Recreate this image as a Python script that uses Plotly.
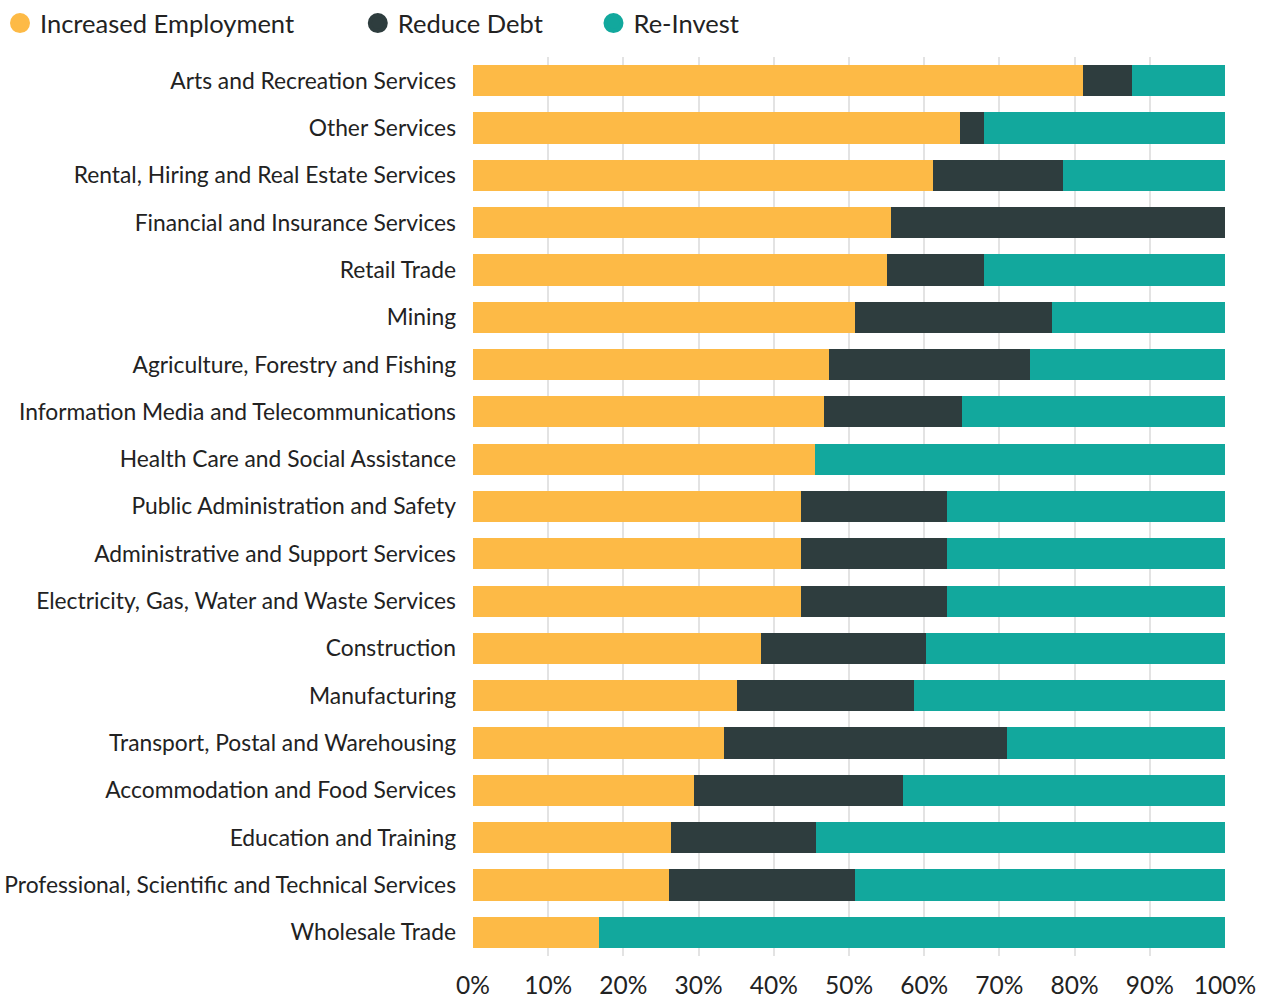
import plotly.graph_objects as go

categories = [
    "Arts and Recreation Services",
    "Other Services",
    "Rental, Hiring and Real Estate Services",
    "Financial and Insurance Services",
    "Retail Trade",
    "Mining",
    "Agriculture, Forestry and Fishing",
    "Information Media and Telecommunications",
    "Health Care and Social Assistance",
    "Public Administration and Safety",
    "Administrative and Support Services",
    "Electricity, Gas, Water and Waste Services",
    "Construction",
    "Manufacturing",
    "Transport, Postal and Warehousing",
    "Accommodation and Food Services",
    "Education and Training",
    "Professional, Scientific and Technical Services",
    "Wholesale Trade",
]
increased_employment = [81.1, 64.8, 61.2, 55.6, 55.1, 50.8, 47.3, 46.7, 45.5, 43.6, 43.6, 43.6, 38.3, 35.1, 33.4, 29.4, 26.3, 26.1, 16.8]
reduce_debt = [6.5, 3.2, 17.3, 44.4, 12.9, 26.2, 26.8, 18.3, 0.0, 19.4, 19.4, 19.4, 21.9, 23.5, 37.6, 27.8, 19.3, 24.7, 0.0]
re_invest = [round(100 - a - b, 1) for a, b in zip(increased_employment, reduce_debt)]

series_names = ["Increased Employment", "Reduce Debt", "Re-Invest"]
series_values = [increased_employment, reduce_debt, re_invest]
series_colors = ["#FDBA46", "#2E3D3E", "#12A89D"]
legend_pad = ["\u00a0" * 9, "\u00a0" * 7, ""]

FONT = "Lato"
fig = go.Figure()
for name, vals, color in zip(series_names, series_values, series_colors):
    fig.add_trace(go.Bar(
        y=categories, x=vals, name=name, orientation="h",
        marker=dict(color=color, line=dict(width=0)),
        showlegend=False, hoverinfo="x+y+name",
    ))
for name, color, pad in zip(series_names, series_colors, legend_pad):
    fig.add_trace(go.Scatter(
        x=[None], y=[None], mode="markers", name=name + pad,
        marker=dict(color=color, size=16, symbol="circle",
                    line=dict(color=color, width=4)),
    ))

fig.update_layout(
    width=1267, height=999,
    barmode="stack", bargap=0.34,
    plot_bgcolor="white", paper_bgcolor="white",
    margin=dict(l=473, r=42, t=57, b=43, autoexpand=False),
    font=dict(family=FONT, size=23, color="#222"),
    legend=dict(
        orientation="h", x=0.0, y=1.0, xref="container", yref="container",
        xanchor="left", yanchor="top", traceorder="normal",
        bgcolor="rgba(0,0,0,0)",
        font=dict(size=25.5, color="#222"),
        itemwidth=30, tracegroupgap=0, itemsizing="trace",
    ),
    xaxis=dict(
        range=[0, 100], tickvals=list(range(0, 101, 10)),
        ticktext=[f"{v}%" for v in range(0, 101, 10)],
        showgrid=True, gridcolor="#E3E3E3", gridwidth=2,
        zeroline=False, showline=False,
        tickfont=dict(size=24.5, color="#222"),
        ticks="", ticklen=0, ticklabelstandoff=12, fixedrange=True,
    ),
    yaxis=dict(
        autorange="reversed", showgrid=False, zeroline=False,
        ticks="", ticklabelstandoff=16,
        tickfont=dict(size=22.8, color="#222"),
    ),
)
fig.write_html("out.html")
